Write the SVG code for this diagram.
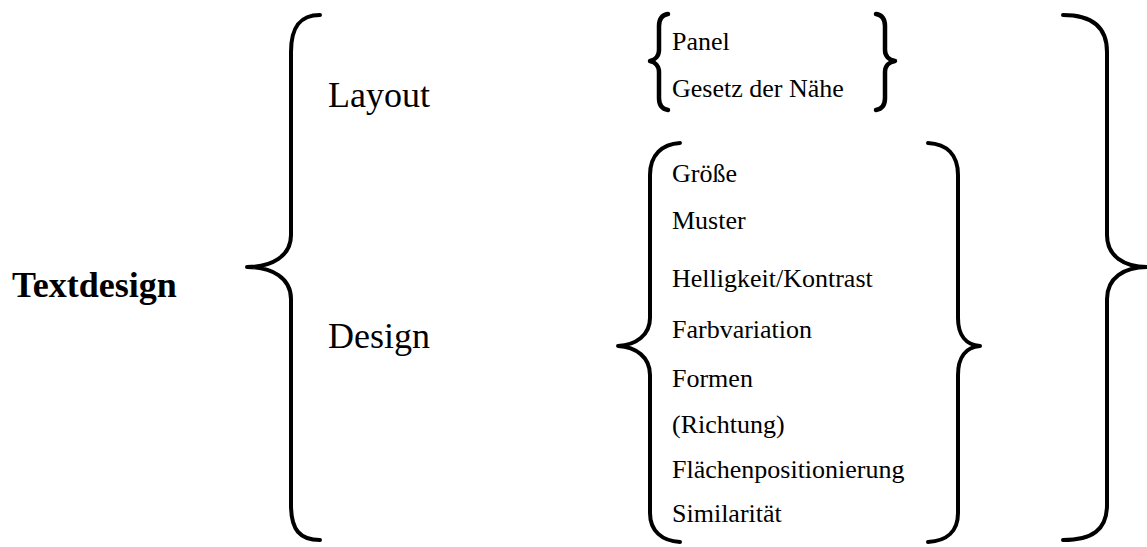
<svg xmlns="http://www.w3.org/2000/svg" width="1147" height="547" viewBox="0 0 1147 547">
<style>
.br{fill:none;stroke:#000;stroke-width:4;stroke-linecap:round;stroke-linejoin:round}
.sb{fill:none;stroke:#000;stroke-width:4.5;stroke-linecap:round;stroke-linejoin:round}
.big{font-family:"Liberation Serif","Times New Roman",serif;font-size:36px;fill:#000}
.sm{font-family:"Liberation Serif","Times New Roman",serif;font-size:26px;fill:#000}
</style>
<rect width="1147" height="547" fill="#fff"/>
<g id="connectors">
<path class="br" d="M320 15 C300 15 291 27 291 52 L291 235 C291 256 272 267 247 267 C272 267 291 278 291 299 L291 505 C291 530 300 540 320 540"/>
<path class="br" d="M1063 15 C1092 15 1107 27 1107 52 L1107 235 C1107 256 1124 267 1147 267 C1124 267 1107 278 1107 299 L1107 505 C1107 530 1092 540 1063 540"/>
<path class="sb" d="M668 14 C662 15 659 19 659 26 L659 50 C659 56 655 60 650 61 C655 62 659 66 659 72 L659 98 C659 105 662 109 668 110"/>
<path class="sb" d="M876 14 C882 15 885 19 885 26 L885 50 C885 56 889 60 895 61 C889 62 885 66 885 72 L885 98 C885 105 882 109 876 110"/>
<path class="br" d="M680 143 C662 144 650 155 650 175 L650 318 C650 335 636 345 618 346 C636 347 650 357 650 375 L650 513 C650 531 662 541 680 542"/>
<path class="br" d="M928 143 C947 144 958 155 958 175 L958 318 C958 335 966 345 980 346 C966 347 958 357 958 375 L958 513 C958 531 947 541 928 542"/>
</g>
<g id="textdesign"><text class="big" x="12" y="297" font-weight="bold">Textdesign</text></g>
<g id="layout"><text class="big" x="328" y="107">Layout</text></g>
<g id="design"><text class="big" x="328" y="348">Design</text></g>
<g id="layout-items">
<text class="sm" x="672" y="50">Panel</text>
<text class="sm" x="672" y="97">Gesetz der Nähe</text>
</g>
<g id="design-items">
<text class="sm" x="672" y="182">Größe</text>
<text class="sm" x="672" y="229">Muster</text>
<text class="sm" x="672" y="287">Helligkeit/Kontrast</text>
<text class="sm" x="672" y="338">Farbvariation</text>
<text class="sm" x="672" y="387">Formen</text>
<text class="sm" x="672" y="433">(Richtung)</text>
<text class="sm" x="672" y="478">Flächenpositionierung</text>
<text class="sm" x="672" y="522">Similarität</text>
</g>
</svg>
